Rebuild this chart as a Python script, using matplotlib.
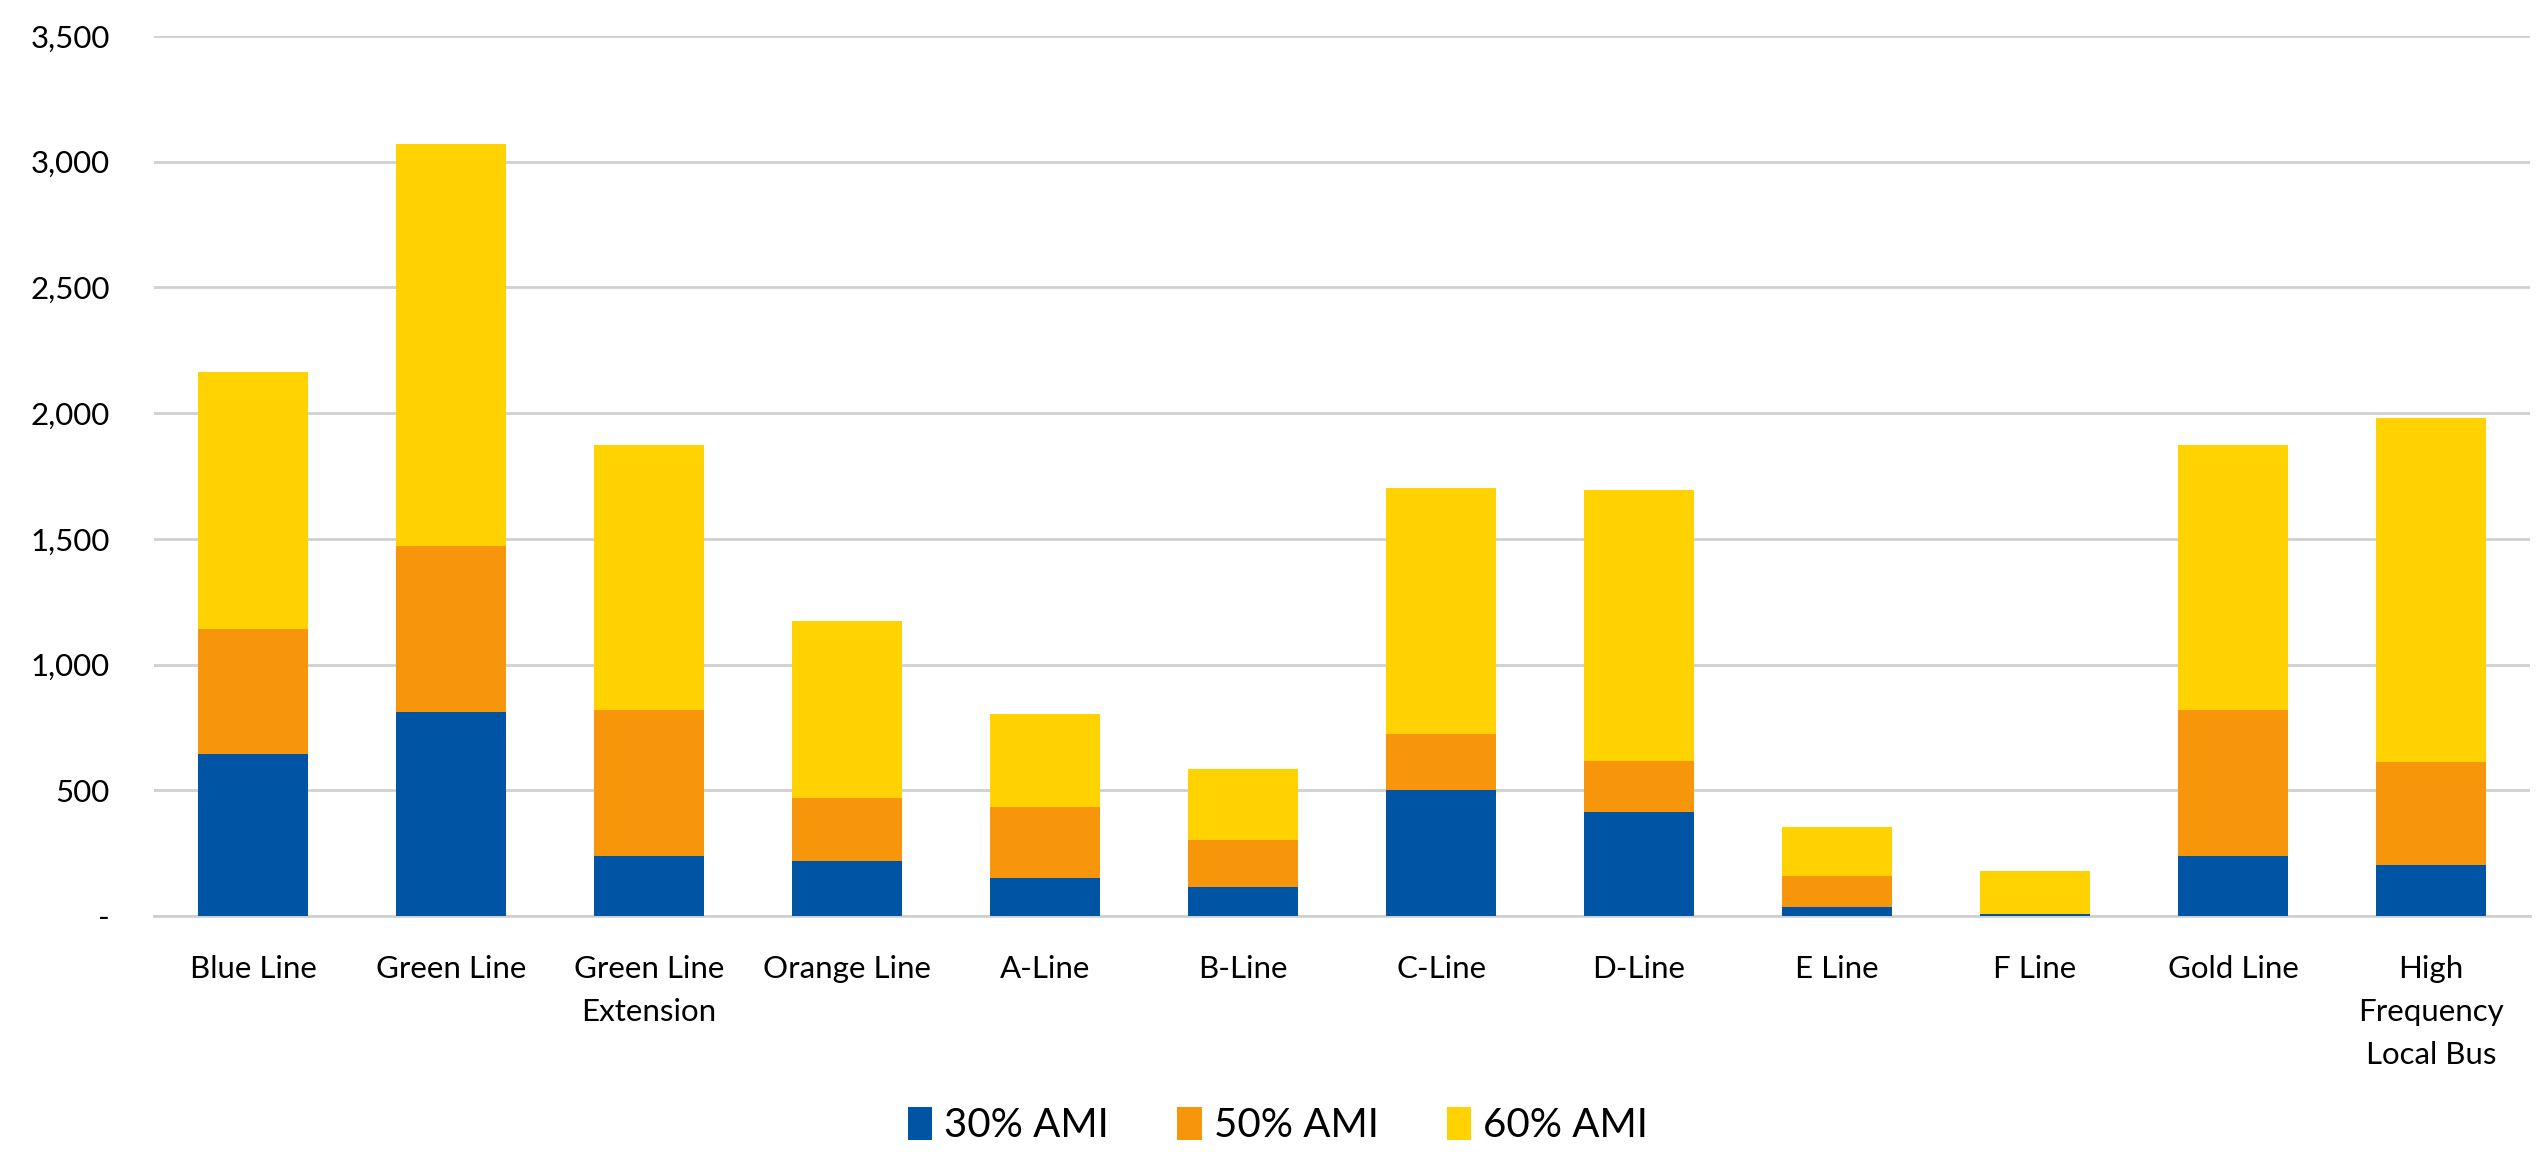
import matplotlib.pyplot as plt
from matplotlib.ticker import FuncFormatter
import numpy as np

lines = ["Blue Line", "Green Line", "Green Line\nExtension", "Orange Line", "A-Line", "B-Line",
         "C-Line", "D-Line", "E Line", "F Line", "Gold Line", "High\nFrequency\nLocal Bus"]
ami30 = [643, 811, 239, 219, 151, 117, 499, 414, 37, 7, 239, 202]
ami50 = [499, 659, 581, 251, 282, 187, 224, 204, 121, 0, 581, 409]
ami60 = [1022, 1602, 1053, 703, 370, 280, 981, 1076, 197, 171, 1053, 1368]

plt.rcParams['font.family'] = ['Lato', 'DejaVu Sans']

fig = plt.figure(figsize=(25.39, 11.52), dpi=100)
ax = fig.add_axes([0.0607, 0.2049, 0.9358, 0.7639])

x = np.arange(len(lines))
w = 0.555
b1 = np.array(ami30)
b2 = b1 + np.array(ami50)
ax.bar(x, ami30, w, color='#0054A4', label='30% AMI', zorder=3)
ax.bar(x, ami50, w, bottom=b1, color='#F7960A', label='50% AMI', zorder=3)
ax.bar(x, ami60, w, bottom=b2, color='#FFD200', label='60% AMI', zorder=3)

ax.set_ylim(0, 3500)
ax.set_xlim(-0.5, 11.5)
ax.set_yticks(range(0, 3501, 500))
ax.yaxis.set_major_formatter(FuncFormatter(lambda v, p: '-' if v == 0 else f'{int(v):,}'))
ax.grid(axis='y', color='#d0d0d0', linewidth=2, zorder=0)
for s in ['top', 'right', 'left']:
    ax.spines[s].set_visible(False)
ax.spines['bottom'].set_color('#d0d0d0')
ax.spines['bottom'].set_linewidth(2)
ax.tick_params(axis='both', length=0, labelsize=22.5, colors='black')
ax.tick_params(axis='y', pad=32)
ax.tick_params(axis='x', pad=28)
ax.set_xticks(x)
ax.set_xticklabels(lines, va='top', linespacing=1.65)

ax.legend(loc='center', bbox_to_anchor=(0.473, -0.238), ncol=3, frameon=False,
          fontsize=29, handlelength=0.6, handleheight=0.9, handletextpad=0.3, columnspacing=1.7)

fig.savefig('out.png', dpi=100)
